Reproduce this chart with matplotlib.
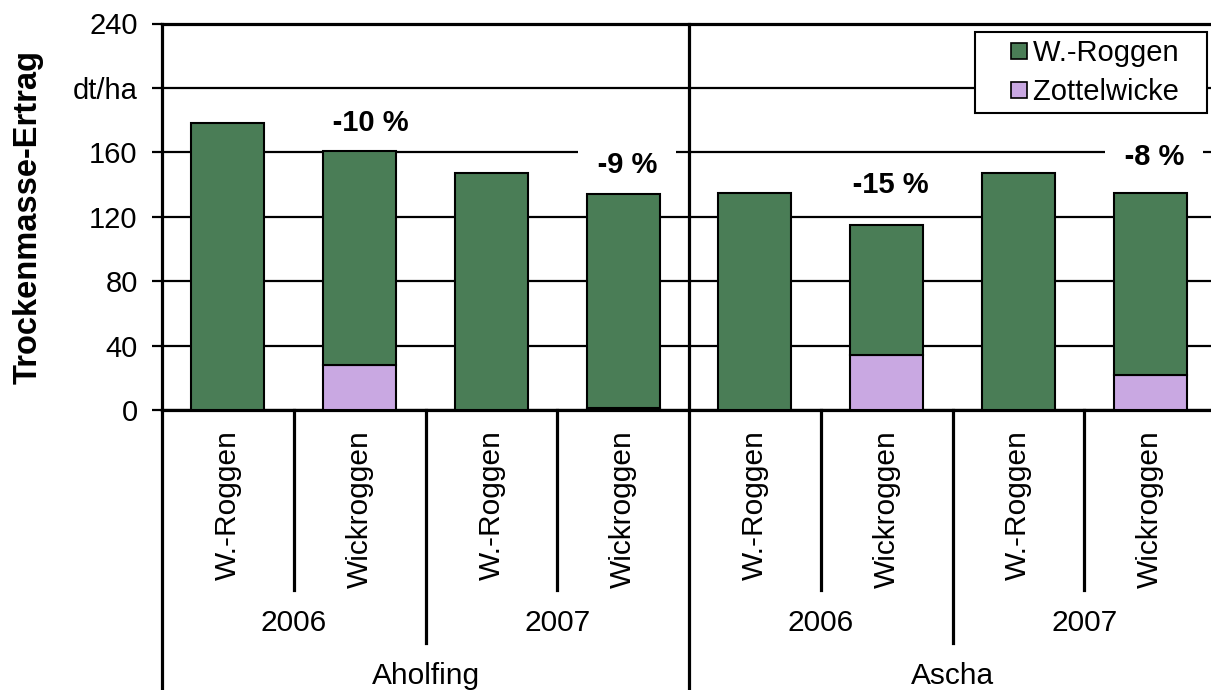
import matplotlib
matplotlib.use("Agg")
import matplotlib.pyplot as plt
from matplotlib.lines import Line2D
import numpy as np

plt.rcParams['font.family'] = ['Liberation Sans', 'DejaVu Sans']

# ---- data ----
locations = ['Aholfing', 'Ascha']
years = ['2006', '2007', '2006', '2007']
variants = ['W.-Roggen', 'Wickroggen'] * 4
total = [178.4, 161.0, 147.4, 134.3, 135.0, 114.9, 147.2, 135.0]
zottelwicke = [0, 27.8, 0, 1.5, 0, 34.0, 0, 22.0]
roggen = [t - z for t, z in zip(total, zottelwicke)]
change_labels = ['-10 %', '-9 %', '-15 %', '-8 %']
change_x = [1.08, 3.03, 5.03, 7.03]
change_y = [178, 152, 139.5, 157]
yticks = [0, 40, 80, 120, 160, 200, 240]
ytick_labels = ['0', '40', '80', '120', '160', 'dt/ha', '240']
legend_labels = ['W.-Roggen', 'Zottelwicke']

green = '#4A7D56'
purple = '#C9A8E2'

W, H = 1211, 690
fig = plt.figure(figsize=(W / 100, H / 100), dpi=100)
left, right, top, bottom = 162, 1216, 23.5, 410
ax = fig.add_axes([left / W, 1 - bottom / H, (right - left) / W, (bottom - top) / H])

x = np.arange(len(total))
bw = 0.555
ax.bar(x, zottelwicke, bw, color=purple, edgecolor='black', linewidth=1.5, zorder=3)
ax.bar(x, roggen, bw, bottom=zottelwicke, color=green, edgecolor='black', linewidth=1.5, zorder=3)

ax.set_xlim(-0.5, 7.5)
ax.set_ylim(0, 240)
ax.set_yticks(yticks)
ax.set_yticklabels(ytick_labels, fontsize=21)
ax.tick_params(axis='y', length=7.5, width=1.6, pad=10)
ax.set_xticks([])
ax.set_axisbelow(True)
ax.yaxis.grid(True, color='black', linewidth=1.6)

for s in ['left', 'top', 'bottom']:
    ax.spines[s].set_linewidth(2.3)
ax.spines['right'].set_visible(False)

# annotations (white box wider than text, as in the reference)
sp = '\u2009' * 3
for xx, lab, yy in zip(change_x, change_labels, change_y):
    ax.text(xx, yy, sp + lab + sp, ha='center', va='center', fontsize=21,
            fontweight='bold', family=['Liberation Sans', 'DejaVu Sans'],
            bbox=dict(boxstyle='square,pad=0.05', facecolor='white', edgecolor='none'), zorder=2)

# separators and multi-level labels
axh = bottom - top
def ay(py):
    return (bottom - py) / axh

tr = ax.get_xaxis_transform()
bottom_edge = ay(H + 5)
for xs in [0.5, 2.5, 4.5, 6.5]:
    ax.add_line(Line2D([xs, xs], [0, ay(590)], transform=tr, color='black', lw=2.3, clip_on=False))
for xs in [1.5, 5.5]:
    ax.add_line(Line2D([xs, xs], [0, ay(643)], transform=tr, color='black', lw=2.3, clip_on=False))
ax.add_line(Line2D([3.5, 3.5], [1, bottom_edge], transform=tr, color='black', lw=2.3, clip_on=False, zorder=4))
ax.add_line(Line2D([-0.5, -0.5], [0, bottom_edge], transform=tr, color='black', lw=2.3, clip_on=False))

for i, v in enumerate(variants):
    ax.text(i, ay(430), v, rotation=90, ha='center', va='top', fontsize=21.5, transform=tr)
for j, yr in enumerate(years):
    ax.text(2 * j + 0.5, ay(623), yr, ha='center', va='center', fontsize=21.5, transform=tr)
for k, loc in enumerate(locations):
    ax.text(4 * k + 1.5, ay(684), loc, ha='center', va='baseline', fontsize=21.5, transform=tr)

fig.text(28 / W, 1 - 217 / H, 'Trockenmasse-Ertrag', rotation=90, ha='center', va='center',
         fontsize=23.5, fontweight='bold')

handles = [Line2D([], [], linestyle='none', marker='s', markersize=11, markerfacecolor=green,
                  markeredgecolor='black', markeredgewidth=1.2),
           Line2D([], [], linestyle='none', marker='s', markersize=11, markerfacecolor=purple,
                  markeredgecolor='black', markeredgewidth=1.2)]
leg = ax.legend(handles, [l + '\u2002\u2009' for l in legend_labels], loc='upper right',
                bbox_to_anchor=(1207 / W, 1 - 32 / H), bbox_transform=fig.transFigure,
                borderaxespad=0, fontsize=21, handlelength=2.5, handleheight=0.7,
                handletextpad=-0.76, labelspacing=0.37, borderpad=0.25, fancybox=False,
                framealpha=1, edgecolor='black',
                prop={'family': ['Liberation Sans', 'DejaVu Sans'], 'size': 21})
leg.get_frame().set_linewidth(1.5)
leg.set_zorder(5)

fig.savefig('out.png', dpi=100)
